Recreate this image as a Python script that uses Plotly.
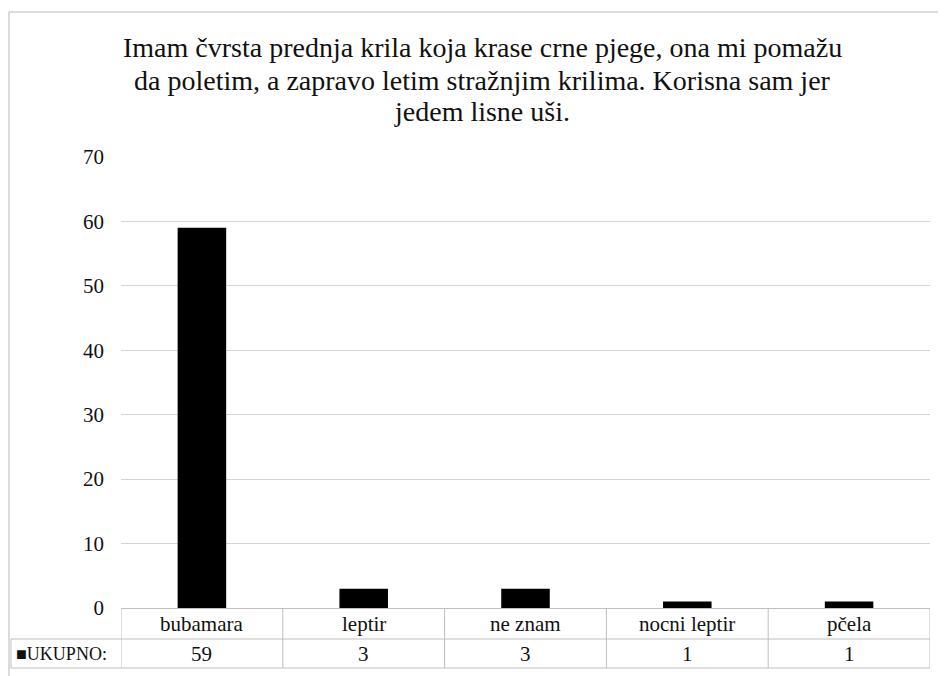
import plotly.graph_objects as go

categories = ["bubamara", "leptir", "ne znam", "nocni leptir", "pčela"]
values = [59, 3, 3, 1, 1]
series_name = "UKUPNO:"
title_lines = [
    "Imam čvrsta prednja krila koja krase crne pjege, ona mi pomažu",
    "da poletim, a zapravo letim stražnjim krilima. Korisna sam jer",
    "jedem lisne uši.",
]
y_ticks = [0, 10, 20, 30, 40, 50, 60, 70]

OFF = 8  # page body margin
W, H = 946 - OFF, 676 - OFF
# plot area in screen pixels
SL, SR, ST, SB = 121, 930, 157, 608
L, T = SL - OFF, ST - OFF
R = W - (SR - OFF)
B = H - (SB - OFF)
pw, ph = W - L - R, H - T - B


def px(sx):
    return (sx - SL) / pw


def py(sy):
    return (SB - sy) / ph


FONT = "Liberation Serif"
INK = "#111111"
GRID = "#d4d4d4"
BORDER = "#bfbfbf"

fig = go.Figure()
fig.add_trace(go.Bar(
    x=list(range(len(categories))), y=values, width=0.3,
    marker=dict(color="black", line=dict(width=0)),
    name=series_name, showlegend=False,
))

shapes = []
n = len(categories)
shapes.append(dict(type="rect", xref="paper", yref="paper",
                   x0=px(9), x1=px(960), y0=py(12), y1=py(700),
                   line=dict(color="#d0d0d0", width=1.5), fillcolor="rgba(0,0,0,0)", layer="below"))
for yy in (639, 668):
    shapes.append(dict(type="line", xref="paper", yref="paper", x0=px(11), x1=1, y0=py(yy), y1=py(yy),
                       line=dict(color=BORDER, width=1)))
for i in range(n + 1):
    shapes.append(dict(type="line", xref="x", yref="paper", x0=i - 0.5, x1=i - 0.5,
                       y0=0, y1=py(668), line=dict(color=BORDER, width=1)))
shapes.append(dict(type="line", xref="paper", yref="paper", x0=px(11), x1=px(11),
                   y0=py(639), y1=py(668), line=dict(color=BORDER, width=1)))

annotations = []
for line, yc in zip(title_lines, (47, 80, 112)):
    annotations.append(dict(text=line, xref="paper", yref="paper",
                            x=px(482), y=py(yc), xanchor="center", yanchor="middle",
                            showarrow=False, font=dict(family=FONT, size=28, color=INK)))
for i, (c, v) in enumerate(zip(categories, values)):
    annotations.append(dict(text=c, xref="x", yref="paper", x=i, y=py(624),
                            xanchor="center", yanchor="middle", showarrow=False,
                            font=dict(family=FONT, size=21, color=INK)))
    annotations.append(dict(text=str(v), xref="x", yref="paper", x=i, y=py(654),
                            xanchor="center", yanchor="middle", showarrow=False,
                            font=dict(family=FONT, size=21, color=INK)))
annotations.append(dict(text="■" + series_name, xref="paper", yref="paper", x=px(14), y=py(654),
                        xanchor="left", yanchor="middle", showarrow=False,
                        font=dict(family=FONT, size=18, color=INK)))

fig.update_layout(
    width=W, height=H,
    margin=dict(l=L, r=R, t=T, b=B, pad=0),
    paper_bgcolor="white", plot_bgcolor="white",
    font=dict(family=FONT, color=INK),
    xaxis=dict(range=[-0.5, n - 0.5], showticklabels=False, showgrid=False,
               zeroline=False, showline=False, ticks="", fixedrange=True),
    yaxis=dict(range=[0, 70], tickvals=y_ticks, showgrid=True, gridcolor=GRID, gridwidth=1,
               zeroline=True, zerolinecolor=BORDER, zerolinewidth=1, showline=False,
               ticks="", ticklabelstandoff=16, tickfont=dict(family=FONT, size=21, color=INK)),
    shapes=shapes, annotations=annotations,
)

fig.write_html("out.html")
